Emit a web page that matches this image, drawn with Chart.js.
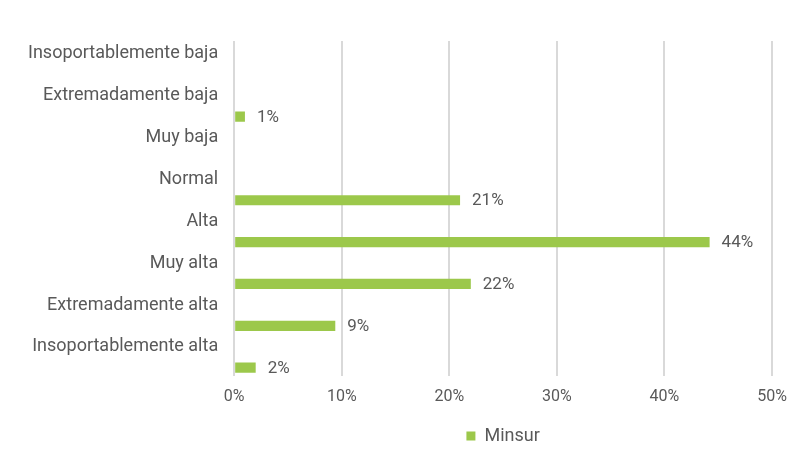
<!DOCTYPE html>
<html>
<head>
<meta charset="utf-8">
<script src="https://cdn.jsdelivr.net/npm/chart.js@4/dist/chart.umd.min.js"></script>
<style>
  body { margin: 0; background: #fff; }
  #wrap { width: 794px; height: 459px; }
</style>
</head>
<body>
<div id="wrap"><canvas id="chart-bar"></canvas></div>
<script>
var categories = ["Insoportablemente baja", "Extremadamente baja", "Muy baja", "Normal",
                  "Alta", "Muy alta", "Extremadamente alta", "Insoportablemente alta"];
var minsur = [0, 1, 0, 21, 44.2, 22, 9.4, 2];
var spacer = [null, null, null, null, null, null, null, null];
var xTicks = [0, 10, 20, 30, 40, 50];

// draws the "21%" style labels next to the bars
var valueLabels = {
    id: 'valueLabels',
    afterDatasetsDraw: function(chart) {
        var ctx = chart.ctx;
        var meta = chart.getDatasetMeta(1);
        ctx.save();
        ctx.font = '17px Roboto';
        ctx.fillStyle = '#595959';
        ctx.textBaseline = 'middle';
        meta.data.forEach(function(bar, i) {
            if (!minsur[i]) return;
            ctx.fillText(Math.round(minsur[i]) + '%', bar.x + 12, bar.y + 1);
        });
        ctx.restore();
    }
};

var ctx = document.getElementById('chart-bar');
var myBarChart = new Chart(ctx, {
    type: 'bar',
    data: {
        labels: categories,
        datasets: [
            {
                data: spacer,
                label: '',
                backgroundColor: 'rgba(0,0,0,0)'
            }, {
                data: minsur,
                label: 'Minsur',
                backgroundColor: '#9cc84b',
                borderWidth: 0
            }
        ]
    },
    options: {
        indexAxis: 'y',
        responsive: true,
        maintainAspectRatio: false,
        animation: false,
        layout: { autoPadding: false, padding: { top: 41, right: 22, bottom: 4, left: 12 } },
        datasets: {
            bar: { categoryPercentage: 1.22, barPercentage: 0.4 }
        },
        scales: {
            x: {
                min: 0,
                max: 50,
                afterBuildTicks: function(axis) {
                    axis.ticks = xTicks.map(function(v) { return { value: v }; });
                },
                afterFit: function(axis) {
                    axis.paddingLeft = 0;
                    axis.paddingRight = 0;
                },
                grid: { color: '#d9d9d9', lineWidth: 2, drawTicks: false },
                border: { display: false },
                ticks: {
                    padding: 12,
                    maxRotation: 0,
                    color: '#595959',
                    font: { family: 'Roboto', size: 16 },
                    callback: function(v) { return v + '%'; }
                }
            },
            y: {
                grid: { display: false, drawTicks: false },
                border: { display: false },
                ticks: {
                    padding: 16,
                    labelOffset: -8,
                    color: '#595959',
                    font: { family: 'Roboto', size: 18 }
                }
            }
        },
        plugins: {
            legend: {
                position: 'bottom',
                fullSize: false,
                labels: {
                    boxWidth: 9,
                    boxHeight: 9,
                    padding: 8,
                    color: '#595959',
                    font: { family: 'Roboto', size: 18 },
                    filter: function(item) { return item.text !== ''; }
                }
            },
            tooltip: { enabled: false }
        }
    },
    plugins: [valueLabels]
});
</script>
</body>
</html>
